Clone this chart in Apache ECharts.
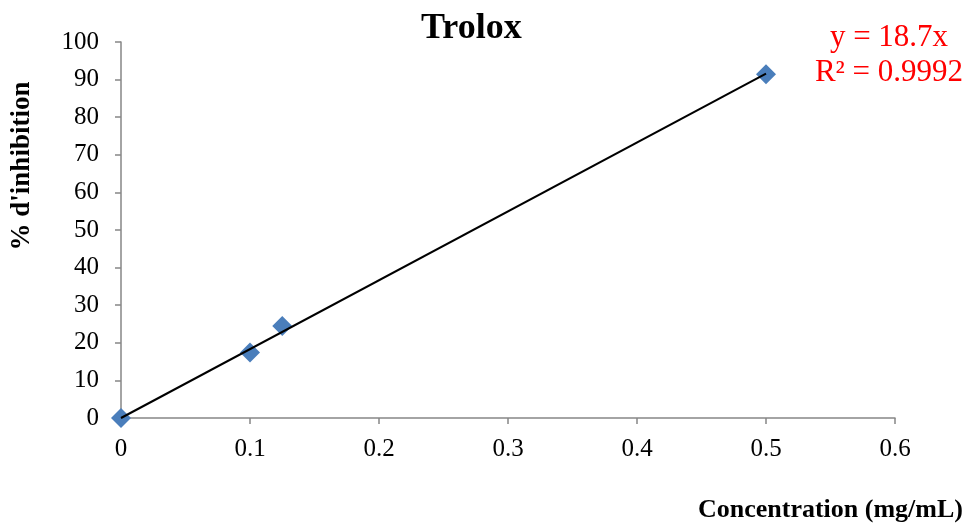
<!DOCTYPE html>
<html>
<head>
<meta charset="utf-8">
<script src="https://cdn.jsdelivr.net/npm/echarts@6/dist/echarts.min.js"></script>
<style>
  html, body { margin: 0; padding: 0; background: #fff; }
  #chart { width: 968px; height: 524px; }
</style>
</head>
<body>
<div id="chart"></div>
<script>
// data
const concentration = [0, 0.1, 0.125, 0.5];
const inhibition = [0, 17.4, 24.5, 91.4];
const xTicks = [0, 0.1, 0.2, 0.3, 0.4, 0.5, 0.6];
const yTicks = [0, 10, 20, 30, 40, 50, 60, 70, 80, 90, 100];
const equation = ["y = 18.7x", "R² = 0.9992"];

// linear trendline through origin, fitted from the points
let sxy = 0, sxx = 0;
concentration.forEach((x, i) => { sxy += x * inhibition[i]; sxx += x * x; });
const slope = sxy / sxx;
const xMaxData = Math.max(...concentration);
const trend = [[0, 0], [xMaxData, slope * xMaxData]];

const serif = "'Liberation Serif', 'Times New Roman', serif";
const axisGray = "#868686";

const chart = echarts.init(document.getElementById("chart"));
chart.setOption({
  animation: false,
  textStyle: { fontFamily: serif },
  title: {
    text: "Trolox",
    left: 416,
    top: 6,
    textStyle: { fontFamily: serif, fontSize: 36, fontWeight: "bold", color: "#000" }
  },
  grid: { left: 121, right: 73, top: 42, bottom: 106, containLabel: false, outerBoundsMode: "none" },
  xAxis: {
    type: "value",
    min: 0,
    max: 0.6,
    interval: 0.1,
    axisLine: { show: true, lineStyle: { color: axisGray, width: 1.5 } },
    axisTick: { show: true, length: 6, lineStyle: { color: axisGray, width: 1.5 } },
    axisLabel: {
      fontFamily: serif, fontSize: 25, color: "#000", margin: 19,
      formatter: v => xTicks.includes(+v.toFixed(1)) ? String(+v.toFixed(1)) : ""
    },
    splitLine: { show: false }
  },
  yAxis: {
    type: "value",
    min: 0,
    max: 100,
    interval: 10,
    axisLine: { show: true, lineStyle: { color: axisGray, width: 1.5 } },
    axisTick: { show: true, length: 6, lineStyle: { color: axisGray, width: 1.5 } },
    axisLabel: {
      fontFamily: serif, fontSize: 25, color: "#000", margin: 22,
      formatter: v => yTicks.includes(v) ? String(v) : ""
    },
    splitLine: { show: false }
  },
  graphic: [
    {
      type: "text",
      x: 889,
      y: 20,
      style: {
        text: equation.join("\n"),
        fill: "#ff0000",
        font: "31px " + serif,
        align: "center",
        lineHeight: 35
      }
    },
    {
      type: "text",
      x: 22,
      y: 166,
      rotation: Math.PI / 2,
      style: {
        text: "% d'inhibition",
        fill: "#000",
        font: "bold 27px " + serif,
        align: "center",
        verticalAlign: "middle"
      }
    },
    {
      type: "text",
      x: 963,
      y: 510,
      style: {
        text: "Concentration (mg/mL)",
        fill: "#000",
        font: "bold 26px " + serif,
        align: "right",
        verticalAlign: "middle"
      }
    }
  ],
  series: [
    {
      type: "scatter",
      data: concentration.map((x, i) => [x, inhibition[i]]),
      symbol: "diamond",
      symbolSize: 20,
      itemStyle: { color: "#4a7ebb", opacity: 1 },
      z: 2
    },
    {
      type: "line",
      data: trend,
      symbol: "none",
      lineStyle: { color: "#000", width: 2 },
      z: 3
    }
  ]
});
</script>
</body>
</html>
